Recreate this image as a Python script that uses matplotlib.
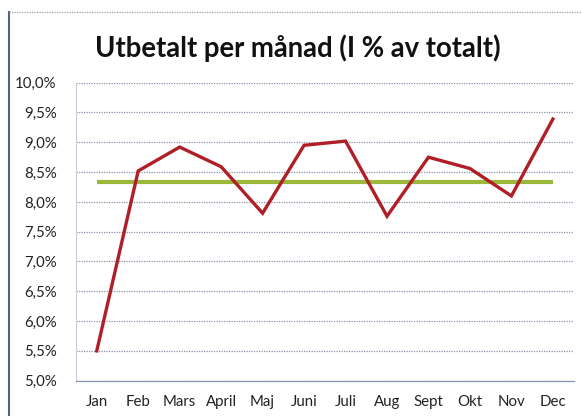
import matplotlib
matplotlib.use("Agg")
import matplotlib.pyplot as plt
from matplotlib.ticker import FuncFormatter
from matplotlib.lines import Line2D

months = ["Jan", "Feb", "Mars", "April", "Maj", "Juni", "Juli", "Aug", "Sept", "Okt", "Nov", "Dec"]
paid_pct = [5.50, 8.52, 8.92, 8.59, 7.81, 8.95, 9.02, 7.76, 8.75, 8.56, 8.10, 9.39]
average_pct = [8.33] * 12
y_ticks = [5.0, 5.5, 6.0, 6.5, 7.0, 7.5, 8.0, 8.5, 9.0, 9.5, 10.0]

plt.rcParams['font.family'] = ['Lato', 'DejaVu Sans']

fig = plt.figure(figsize=(5.82, 4.16), dpi=100)
ax = fig.add_axes([0.1306, 0.0849, 0.855, 0.7163])

x = list(range(len(months)))
ax.plot(x, average_pct, color='#9cb83c', linewidth=3.0, solid_capstyle='butt', zorder=3)
ax.plot(x, paid_pct, color='#b01e28', linewidth=2.4, solid_joinstyle='miter', zorder=4)

ax.set_xlim(-0.5, len(months) - 0.5)
ax.set_ylim(5.0, 10.0)
ax.set_yticks(y_ticks)
ax.yaxis.set_major_formatter(FuncFormatter(lambda v, p: f"{v:.1f}%".replace('.', ',')))
ax.set_xticks(x)
ax.set_xticklabels(months)
ax.tick_params(axis='both', length=0, labelsize=10.8, colors='#222222')
ax.tick_params(axis='y', pad=14)
ax.tick_params(axis='x', pad=10)

ax.yaxis.grid(True, color='#8a94aa', linestyle=(0, (1, 1)), linewidth=0.9)
ax.set_axisbelow(True)
for s in ['top', 'right']:
    ax.spines[s].set_visible(False)
ax.spines['left'].set_color('#c8ccd6')
ax.spines['left'].set_linewidth(0.8)
ax.spines['bottom'].set_color('#8a94aa')
ax.spines['bottom'].set_linestyle((0, (1, 1)))
ax.spines['bottom'].set_linewidth(0.9)

fig.text(0.511, 0.885, "Utbetalt per månad (I % av totalt)", ha='center', va='center',
         fontsize=19.8, fontweight='bold', color='#111111')

# outer chart frame (left solid, top dotted)
fig.add_artist(Line2D([9/582, 9/582], [0, 1 - 12/416], transform=fig.transFigure,
                      color='#56637f', linewidth=1.5))
fig.add_artist(Line2D([9/582, 1], [1 - 12/416, 1 - 12/416], transform=fig.transFigure,
                      color='#9aa0aa', linewidth=0.9, linestyle=(0, (1, 1))))

fig.savefig("out.png", dpi=100)
